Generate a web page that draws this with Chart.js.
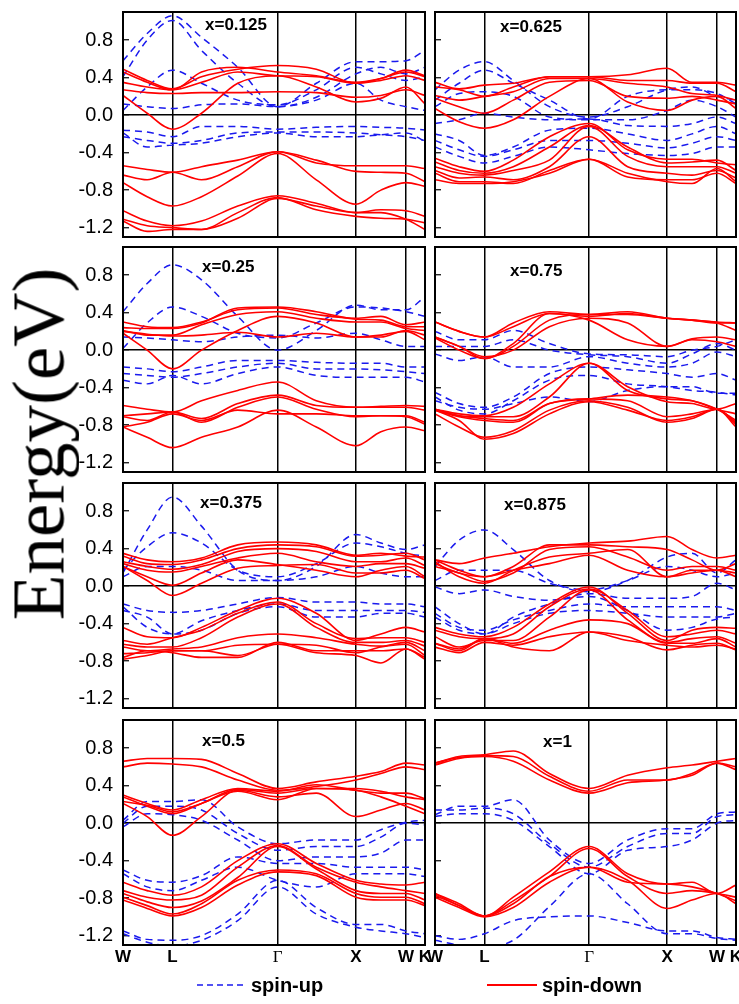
<!DOCTYPE html>
<html><head><meta charset="utf-8">
<script src="https://cdn.jsdelivr.net/npm/chart.js@4.4.1/dist/chart.umd.min.js"></script>
<style>
html,body{margin:0;padding:0;background:#fff}
body{width:739px;height:1004px;overflow:hidden;position:relative;font-family:"Liberation Sans",Arial,sans-serif}
canvas{position:absolute}
.plab{position:absolute;font-weight:bold;font-size:17px;line-height:20px;color:#000;white-space:nowrap}
.leg{position:absolute;font-weight:bold;font-size:20px;line-height:24px;color:#000;white-space:nowrap}
#ytitle{position:absolute;left:38px;top:444px;transform:translate(-50%,-50%) rotate(-90deg);font-family:"Liberation Serif","Times New Roman",serif;font-size:75px;line-height:75px;white-space:nowrap;color:#000}
</style></head>
<body>
<canvas id="c0"></canvas><canvas id="c1"></canvas><canvas id="c2"></canvas><canvas id="c3"></canvas>
<canvas id="c4"></canvas><canvas id="c5"></canvas><canvas id="c6"></canvas><canvas id="c7"></canvas>
<div id="ytitle">Energy(eV)</div>
<div class="plab" style="left:205px;top:15px">x=0.125</div>
<div class="plab" style="left:500px;top:17px">x=0.625</div>
<div class="plab" style="left:202px;top:257px">x=0.25</div>
<div class="plab" style="left:510px;top:261px">x=0.75</div>
<div class="plab" style="left:200px;top:493px">x=0.375</div>
<div class="plab" style="left:504px;top:495px">x=0.875</div>
<div class="plab" style="left:202px;top:731px">x=0.5</div>
<div class="plab" style="left:543px;top:732px">x=1</div>
<svg style="position:absolute;left:197px;top:980px" width="50" height="10"><line x1="0" y1="5" x2="49" y2="5" stroke="#1a1aee" stroke-width="1.5" stroke-dasharray="6,4"/></svg>
<div class="leg" style="left:251px;top:973px">spin-up</div>
<svg style="position:absolute;left:487px;top:980px" width="50" height="10"><line x1="0" y1="5" x2="50" y2="5" stroke="#ff0000" stroke-width="2"/></svg>
<div class="leg" style="left:542px;top:973px">spin-down</div>
<script>
// k-path sample positions (fraction of path length)
const kPos = [0, 0.08, 0.164, 0.26, 0.38, 0.512, 0.64, 0.771, 0.854, 0.937, 1];
const kTickVals = [0, 0.164, 0.512, 0.771, 0.937, 1];
const kTickLabels = ['W', 'L', 'Γ', 'X', 'W', 'K'];
const yTickVals = [-1.2, -1.0, -0.8, -0.6, -0.4, -0.2, 0, 0.2, 0.4, 0.6, 0.8, 1.0];
const yTickLabels = ['-1.2', '', '-0.8', '', '-0.4', '', '0.0', '', '0.4', '', '0.8', ''];
const panelNames = ['x=0.125', 'x=0.25', 'x=0.375', 'x=0.5', 'x=0.625', 'x=0.75', 'x=0.875', 'x=1'];
const seriesNames = ['spin-up', 'spin-down'];

// x = 0.125
const dn125 = [
 [0.49,0.37,0.28,0.41,0.49,0.53,0.49,0.34,0.39,0.48,0.42],
 [0.46,0.35,0.27,0.46,0.51,0.46,0.42,0.35,0.39,0.46,0.41],
 [0.35,0.30,0.27,0.35,0.46,0.42,0.41,0.34,0.37,0.42,0.37],
 [0.27,0.24,0.23,0.24,0.24,0.25,0.24,0.19,0.21,0.27,0.21],
 [0.21,0.02,-0.15,0.02,0.34,0.42,0.30,0.14,0.18,0.30,0.12],
 [-0.54,-0.58,-0.61,-0.55,-0.48,-0.39,-0.51,-0.54,-0.54,-0.54,-0.57],
 [-0.64,-0.69,-0.61,-0.69,-0.55,-0.39,-0.48,-0.60,-0.61,-0.62,-0.71],
 [-0.72,-0.87,-0.97,-0.87,-0.65,-0.41,-0.69,-0.95,-0.80,-0.72,-0.76],
 [-1.02,-1.13,-1.18,-1.13,-0.97,-0.86,-0.94,-1.04,-1.04,-1.11,-1.22],
 [-1.11,-1.18,-1.20,-1.22,-1.04,-0.88,-1.01,-1.08,-1.10,-1.11,-1.15],
 [-1.13,-1.24,-1.22,-1.22,-1.10,-0.89,-0.97,-1.04,-1.01,-1.02,-1.08]
];
const up125 = [
 [0.58,0.87,1.06,0.83,0.51,0.09,0.34,0.57,0.57,0.58,0.69],
 [0.41,0.80,1.01,0.69,0.34,0.09,0.19,0.44,0.51,0.44,0.51],
 [0.05,0.30,0.48,0.34,0.16,0.11,0.27,0.51,0.44,0.37,0.41],
 [0.12,0.09,0.07,0.11,0.12,0.09,0.16,0.34,0.16,0.09,0.05],
 [-0.16,-0.18,-0.23,-0.12,-0.12,-0.15,-0.13,-0.12,-0.13,-0.14,-0.16],
 [-0.23,-0.27,-0.30,-0.27,-0.19,-0.18,-0.18,-0.19,-0.21,-0.23,-0.27],
 [-0.19,-0.34,-0.32,-0.30,-0.23,-0.19,-0.23,-0.23,-0.21,-0.19,-0.28]
];
// x = 0.25
const dn25 = [
 [0.30,0.25,0.24,0.30,0.43,0.45,0.38,0.34,0.36,0.27,0.30],
 [0.24,0.23,0.23,0.29,0.45,0.46,0.41,0.33,0.32,0.25,0.25],
 [0.21,0.16,0.16,0.27,0.38,0.41,0.34,0.30,0.30,0.23,0.21],
 [0.20,0.17,0.15,0.16,0.19,0.14,0.18,0.14,0.14,0.21,0.16],
 [0.18,0.00,-0.20,0.00,0.21,0.36,0.29,0.14,0.16,0.20,0.11],
 [-0.59,-0.63,-0.66,-0.54,-0.43,-0.34,-0.54,-0.61,-0.60,-0.59,-0.60],
 [-0.70,-0.68,-0.66,-0.73,-0.57,-0.48,-0.59,-0.61,-0.61,-0.61,-0.64],
 [-0.71,-0.75,-0.66,-0.77,-0.61,-0.50,-0.63,-0.71,-0.70,-0.70,-0.77],
 [-0.82,-0.77,-0.68,-0.75,-0.64,-0.68,-0.68,-0.70,-0.70,-0.71,-0.79],
 [-0.82,-0.93,-1.04,-0.93,-0.82,-0.64,-0.82,-1.02,-0.87,-0.82,-0.86]
];
const up25 = [
 [0.41,0.71,0.91,0.75,0.36,0.00,0.21,0.48,0.43,0.43,0.57],
 [0.02,0.29,0.46,0.36,0.18,0.13,0.29,0.46,0.45,0.41,0.36],
 [0.14,0.13,0.11,0.09,0.14,0.16,0.13,0.18,0.11,0.04,0.04],
 [-0.18,-0.20,-0.23,-0.18,-0.11,-0.11,-0.13,-0.14,-0.14,-0.18,-0.18],
 [-0.25,-0.27,-0.29,-0.25,-0.18,-0.14,-0.20,-0.20,-0.21,-0.23,-0.25],
 [-0.32,-0.36,-0.27,-0.36,-0.25,-0.18,-0.27,-0.29,-0.29,-0.29,-0.34]
];
// x = 0.375
const dn375 = [
 [0.35,0.28,0.26,0.30,0.44,0.47,0.44,0.33,0.35,0.32,0.31],
 [0.32,0.24,0.23,0.28,0.40,0.44,0.42,0.32,0.33,0.35,0.28],
 [0.26,0.21,0.18,0.23,0.37,0.40,0.37,0.26,0.26,0.30,0.22],
 [0.24,0.17,0.15,0.21,0.30,0.35,0.26,0.21,0.24,0.24,0.19],
 [0.21,0.10,0.01,0.14,0.28,0.23,0.17,0.10,0.17,0.21,0.10],
 [0.21,0.06,-0.10,0.03,0.19,0.22,0.23,0.14,0.14,0.17,0.08],
 [-0.44,-0.54,-0.55,-0.44,-0.26,-0.13,-0.29,-0.58,-0.51,-0.44,-0.49],
 [-0.58,-0.62,-0.55,-0.47,-0.29,-0.17,-0.40,-0.56,-0.55,-0.55,-0.60],
 [-0.62,-0.65,-0.65,-0.55,-0.33,-0.19,-0.44,-0.60,-0.60,-0.58,-0.64],
 [-0.65,-0.69,-0.67,-0.65,-0.55,-0.51,-0.55,-0.62,-0.64,-0.60,-0.69],
 [-0.72,-0.71,-0.69,-0.69,-0.63,-0.62,-0.63,-0.71,-0.65,-0.62,-0.74],
 [-0.76,-0.69,-0.71,-0.76,-0.76,-0.60,-0.69,-0.69,-0.69,-0.67,-0.76],
 [-0.78,-0.74,-0.69,-0.69,-0.74,-0.62,-0.71,-0.74,-0.82,-0.67,-0.78]
];
const up375 = [
 [0.14,0.60,0.95,0.64,0.17,0.06,0.21,0.55,0.46,0.39,0.44],
 [0.17,0.42,0.57,0.46,0.17,0.10,0.24,0.46,0.42,0.35,0.32],
 [0.10,0.21,0.21,0.17,0.06,0.06,0.10,0.21,0.14,0.10,0.10],
 [-0.19,-0.26,-0.28,-0.26,-0.19,-0.12,-0.17,-0.17,-0.19,-0.19,-0.22],
 [-0.26,-0.33,-0.51,-0.37,-0.26,-0.19,-0.26,-0.26,-0.26,-0.26,-0.28],
 [-0.22,-0.44,-0.51,-0.47,-0.29,-0.22,-0.33,-0.33,-0.29,-0.29,-0.33]
];
// x = 0.5
const dn5 = [
 [0.66,0.69,0.69,0.68,0.53,0.37,0.44,0.50,0.55,0.64,0.62],
 [0.60,0.64,0.63,0.60,0.46,0.35,0.39,0.46,0.53,0.60,0.57],
 [0.30,0.21,0.14,0.25,0.37,0.34,0.41,0.35,0.32,0.32,0.26],
 [0.23,0.19,0.12,0.21,0.36,0.32,0.37,0.37,0.34,0.28,0.25],
 [0.21,0.07,-0.13,0.07,0.35,0.28,0.32,0.07,0.14,0.21,0.14],
 [0.28,0.18,0.10,0.21,0.34,0.25,0.37,0.35,0.28,0.18,0.10],
 [-0.63,-0.72,-0.77,-0.68,-0.40,-0.22,-0.43,-0.61,-0.65,-0.66,-0.63],
 [-0.72,-0.79,-0.82,-0.77,-0.47,-0.24,-0.47,-0.63,-0.68,-0.72,-0.75],
 [-0.75,-0.84,-0.90,-0.83,-0.58,-0.25,-0.49,-0.72,-0.75,-0.75,-0.82],
 [-0.79,-0.88,-0.97,-0.86,-0.61,-0.50,-0.54,-0.75,-0.79,-0.79,-0.86],
 [-0.82,-0.91,-0.99,-0.90,-0.66,-0.52,-0.56,-0.79,-0.82,-0.82,-0.88]
];
const up5 = [
 [0.03,0.23,0.23,0.25,-0.04,-0.22,-0.18,-0.18,-0.07,0.01,0.03],
 [0.00,0.18,0.18,0.14,-0.11,-0.29,-0.25,-0.25,-0.15,0.00,-0.02],
 [-0.04,0.10,0.09,0.03,-0.18,-0.40,-0.36,-0.36,-0.32,-0.18,-0.18],
 [-0.50,-0.61,-0.63,-0.56,-0.36,-0.43,-0.43,-0.47,-0.47,-0.47,-0.50],
 [-0.54,-0.68,-0.72,-0.61,-0.47,-0.61,-0.68,-0.54,-0.54,-0.54,-0.57],
 [-1.15,-1.24,-1.25,-1.20,-0.97,-0.61,-0.90,-1.08,-1.08,-1.15,-1.18],
 [-1.18,-1.27,-1.31,-1.25,-1.04,-0.68,-0.97,-1.11,-1.15,-1.18,-1.22]
];
// x = 0.625
const dn625 = [
 [0.35,0.28,0.32,0.34,0.41,0.41,0.43,0.50,0.35,0.35,0.32],
 [0.30,0.27,0.20,0.30,0.41,0.41,0.37,0.37,0.34,0.34,0.25],
 [0.21,0.16,0.20,0.25,0.39,0.39,0.34,0.30,0.23,0.21,0.16],
 [0.18,0.09,0.02,0.16,0.35,0.37,0.20,0.18,0.20,0.16,0.12],
 [0.07,-0.07,-0.14,-0.05,0.20,0.39,0.14,0.05,0.16,0.20,0.07],
 [-0.46,-0.55,-0.60,-0.48,-0.23,-0.09,-0.37,-0.47,-0.47,-0.51,-0.53],
 [-0.50,-0.59,-0.62,-0.55,-0.34,-0.11,-0.34,-0.51,-0.50,-0.48,-0.59],
 [-0.55,-0.62,-0.64,-0.59,-0.48,-0.12,-0.44,-0.55,-0.55,-0.55,-0.62],
 [-0.59,-0.67,-0.66,-0.69,-0.55,-0.23,-0.55,-0.62,-0.64,-0.59,-0.67],
 [-0.62,-0.71,-0.71,-0.73,-0.59,-0.47,-0.62,-0.71,-0.73,-0.57,-0.71],
 [-0.69,-0.73,-0.73,-0.71,-0.62,-0.47,-0.66,-0.69,-0.69,-0.62,-0.73]
];
const up625 = [
 [0.27,0.48,0.57,0.37,0.09,-0.02,0.09,0.27,0.30,0.20,0.16],
 [0.16,0.34,0.48,0.34,0.16,-0.04,0.20,0.27,0.27,0.23,0.12],
 [0.09,0.23,0.25,0.20,-0.02,-0.05,-0.05,0.05,0.16,0.09,-0.02],
 [-0.09,-0.05,0.02,-0.02,-0.05,-0.04,-0.11,-0.12,-0.09,-0.02,-0.09],
 [-0.20,-0.27,-0.43,-0.34,-0.16,-0.14,-0.20,-0.27,-0.20,-0.12,-0.20],
 [-0.27,-0.37,-0.44,-0.37,-0.27,-0.27,-0.30,-0.35,-0.30,-0.23,-0.27],
 [-0.34,-0.44,-0.51,-0.44,-0.34,-0.37,-0.41,-0.43,-0.41,-0.34,-0.34]
];
// x = 0.75
const dn75 = [
 [0.30,0.20,0.14,0.29,0.41,0.38,0.41,0.34,0.32,0.30,0.29],
 [0.30,0.20,0.14,0.25,0.39,0.36,0.39,0.34,0.32,0.29,0.21],
 [0.14,0.04,-0.09,0.04,0.32,0.38,0.38,0.34,0.32,0.29,0.29],
 [0.14,0.04,-0.07,0.00,0.25,0.34,0.29,0.04,0.12,0.14,0.11],
 [0.13,0.00,-0.09,0.07,0.39,0.32,0.11,0.04,0.11,0.09,0.04],
 [-0.63,-0.68,-0.70,-0.61,-0.36,-0.14,-0.39,-0.55,-0.57,-0.63,-0.57],
 [-0.63,-0.70,-0.71,-0.71,-0.50,-0.14,-0.43,-0.52,-0.54,-0.63,-0.68],
 [-0.63,-0.70,-0.73,-0.75,-0.57,-0.52,-0.48,-0.50,-0.54,-0.63,-0.75],
 [-0.64,-0.71,-0.75,-0.77,-0.57,-0.52,-0.54,-0.71,-0.68,-0.63,-0.79],
 [-0.68,-0.82,-0.93,-0.86,-0.64,-0.54,-0.61,-0.77,-0.73,-0.63,-0.82],
 [-0.64,-0.75,-0.95,-0.89,-0.68,-0.55,-0.64,-0.75,-0.71,-0.63,-0.77]
];
const up75 = [
 [0.20,0.11,0.11,0.21,0.07,-0.04,-0.05,-0.07,0.00,0.04,0.11],
 [0.04,0.04,0.04,0.11,0.00,-0.05,-0.07,-0.14,-0.04,0.07,0.00],
 [-0.04,-0.11,-0.07,-0.18,-0.18,-0.07,-0.14,-0.18,-0.14,-0.02,-0.07],
 [-0.45,-0.57,-0.61,-0.50,-0.25,-0.18,-0.21,-0.25,-0.29,-0.25,-0.32],
 [-0.50,-0.64,-0.68,-0.54,-0.32,-0.27,-0.36,-0.39,-0.43,-0.45,-0.48],
 [-0.54,-0.61,-0.63,-0.57,-0.50,-0.55,-0.43,-0.39,-0.39,-0.46,-0.46]
];
// x = 0.875
const dn875 = [
 [0.28,0.24,0.30,0.35,0.42,0.46,0.48,0.53,0.39,0.30,0.33],
 [0.28,0.17,0.10,0.21,0.44,0.44,0.42,0.39,0.28,0.17,0.24],
 [0.21,0.14,0.05,0.14,0.39,0.42,0.31,0.17,0.21,0.21,0.17],
 [0.26,0.10,0.03,0.17,0.31,0.35,0.39,0.10,0.14,0.17,0.14],
 [0.24,0.14,0.10,0.17,0.24,0.33,0.17,0.10,0.17,0.17,0.10],
 [-0.44,-0.51,-0.54,-0.44,-0.19,-0.01,-0.29,-0.58,-0.47,-0.44,-0.45],
 [-0.47,-0.54,-0.56,-0.51,-0.22,-0.03,-0.26,-0.54,-0.51,-0.47,-0.51],
 [-0.54,-0.65,-0.58,-0.58,-0.33,-0.04,-0.36,-0.60,-0.56,-0.54,-0.61],
 [-0.61,-0.69,-0.56,-0.61,-0.47,-0.36,-0.40,-0.61,-0.61,-0.56,-0.65],
 [-0.65,-0.71,-0.60,-0.63,-0.54,-0.49,-0.54,-0.68,-0.63,-0.61,-0.68],
 [-0.61,-0.67,-0.56,-0.65,-0.69,-0.49,-0.58,-0.63,-0.65,-0.63,-0.67]
];
const up875 = [
 [0.21,0.49,0.60,0.39,0.06,-0.06,0.06,0.31,0.35,0.14,0.28],
 [0.06,0.17,0.17,0.17,0.03,-0.04,0.06,0.21,0.17,0.10,0.14],
 [-0.01,-0.08,-0.04,-0.11,-0.15,-0.11,-0.26,-0.47,-0.44,-0.35,-0.33],
 [-0.22,-0.40,-0.51,-0.33,-0.19,-0.08,-0.13,-0.13,-0.11,0.03,-0.04],
 [-0.29,-0.44,-0.47,-0.36,-0.26,-0.19,-0.22,-0.22,-0.22,-0.22,-0.26],
 [-0.33,-0.47,-0.51,-0.40,-0.29,-0.26,-0.29,-0.33,-0.33,-0.33,-0.29]
];
// x = 1
const dn1 = [
 [0.64,0.71,0.73,0.77,0.53,0.37,0.51,0.59,0.62,0.66,0.69],
 [0.64,0.70,0.72,0.71,0.50,0.34,0.46,0.46,0.53,0.64,0.60],
 [0.62,0.69,0.71,0.66,0.46,0.32,0.43,0.46,0.51,0.64,0.57],
 [-0.75,-0.86,-0.99,-0.79,-0.52,-0.25,-0.54,-0.65,-0.63,-0.75,-0.66],
 [-0.75,-0.88,-0.99,-0.83,-0.57,-0.27,-0.57,-0.75,-0.72,-0.75,-0.79],
 [-0.77,-0.88,-0.99,-0.86,-0.57,-0.47,-0.61,-0.91,-0.82,-0.75,-0.86],
 [-0.79,-0.90,-1.00,-0.90,-0.63,-0.47,-0.63,-0.65,-0.68,-0.75,-0.83]
];
const up1 = [
 [0.09,0.18,0.18,0.25,-0.18,-0.43,-0.18,-0.06,-0.06,0.10,0.12],
 [0.14,0.14,0.16,0.10,-0.22,-0.47,-0.25,-0.11,-0.11,0.07,0.09],
 [0.07,0.10,0.10,0.03,-0.25,-0.54,-0.29,-0.25,-0.18,0.00,0.03],
 [-1.20,-1.24,-1.18,-1.04,-1.00,-0.99,-1.06,-1.15,-1.15,-1.22,-1.24],
 [-1.25,-1.30,-1.32,-1.25,-0.89,-0.54,-0.86,-1.18,-1.18,-1.23,-1.25]
];

const UP_COLOR = '#1a1aee';
const DN_COLOR = '#ff0000';

const framePlugin = {
  id: 'frame',
  afterDraw(chart) {
    const a = chart.chartArea, ctx = chart.ctx;
    ctx.save();
    ctx.strokeStyle = '#000';
    ctx.lineWidth = 2;
    ctx.strokeRect(a.left, a.top, a.right - a.left, a.bottom - a.top);
    ctx.restore();
  }
};

function makeBand(vals, color, dash, width) {
  return {
    data: kPos.map((x, i) => ({x: x, y: vals[i]})),
    borderColor: color,
    borderWidth: width,
    borderDash: dash,
    pointRadius: 0,
    fill: false,
    cubicInterpolationMode: 'monotone'
  };
}

function makePanel(id, col, rowTop, dn, up, showX) {
  const cv = document.getElementById(id);
  const H = 225;
  const padTop = 4, padBot = 4, xH = showX ? 30 : 0;
  const cw = col === 0 ? 440 : 330;
  const ch = padTop + H + xH + padBot;
  const yW = col === 0 ? 123 : 15;
  const padRight = col === 0 ? 15 : 14;
  cv.width = cw; cv.height = ch;
  cv.style.left = (col === 0 ? 0 : 420) + 'px';
  cv.style.top = (rowTop - padTop) + 'px';
  cv.style.width = cw + 'px'; cv.style.height = ch + 'px';
  const datasets = [];
  dn.forEach(b => datasets.push(makeBand(b, DN_COLOR, [], 1.6)));
  up.forEach(b => datasets.push(makeBand(b, UP_COLOR, [7, 5], 1.5)));
  new Chart(cv, {
    type: 'line',
    data: {datasets},
    plugins: [framePlugin],
    options: {
      responsive: false,
      animation: false,
      devicePixelRatio: 1,
      layout: {padding: {top: padTop, bottom: padBot, left: 0, right: padRight}},
      plugins: {legend: {display: false}, tooltip: {enabled: false}},
      scales: {
        x: {
          type: 'linear', min: 0, max: 1,
          afterBuildTicks: s => { s.ticks = kTickVals.map(v => ({value: v})); },
          afterFit: s => { s.height = xH; s.paddingLeft = 0; s.paddingRight = 0; s.paddingTop = 0; s.paddingBottom = 0; },
          border: {display: false},
          grid: {color: '#000', lineWidth: 1.5, drawTicks: false},
          ticks: {
            display: showX,
            autoSkip: false, maxRotation: 0, minRotation: 0, padding: 2,
            color: '#000',
            callback: (v, i) => kTickLabels[i],
            font: c => (c.index === 2)
              ? {family: '"Liberation Serif", "Times New Roman", serif', size: 17, weight: 'normal'}
              : {family: '"Liberation Sans", Arial, sans-serif', size: 17, weight: 'bold'}
          }
        },
        y: {
          type: 'linear', min: -1.3, max: 1.1,
          afterBuildTicks: s => { s.ticks = yTickVals.map(v => ({value: v})); },
          afterFit: s => { s.width = yW; s.paddingLeft = 0; s.paddingRight = 0; s.paddingTop = 0; s.paddingBottom = 0; },
          border: {display: false},
          grid: {
            color: c => (c.tick && c.tick.value === 0) ? '#000' : 'rgba(0,0,0,0)',
            lineWidth: 1.5,
            tickColor: '#000', tickLength: -6, tickWidth: 1.2
          },
          ticks: {
            padding: 16, color: '#000',
            font: {family: '"Liberation Sans", Arial, sans-serif', size: 20},
            callback: (v, i) => col === 0 ? yTickLabels[i] : ''
          }
        }
      }
    }
  });
}

const rowTops = [12, 247, 483, 720];
makePanel('c0', 0, rowTops[0], dn125, up125, false);
makePanel('c1', 0, rowTops[1], dn25, up25, false);
makePanel('c2', 0, rowTops[2], dn375, up375, false);
makePanel('c3', 0, rowTops[3], dn5, up5, true);
makePanel('c4', 1, rowTops[0], dn625, up625, false);
makePanel('c5', 1, rowTops[1], dn75, up75, false);
makePanel('c6', 1, rowTops[2], dn875, up875, false);
makePanel('c7', 1, rowTops[3], dn1, up1, true);
</script>
</body></html>
